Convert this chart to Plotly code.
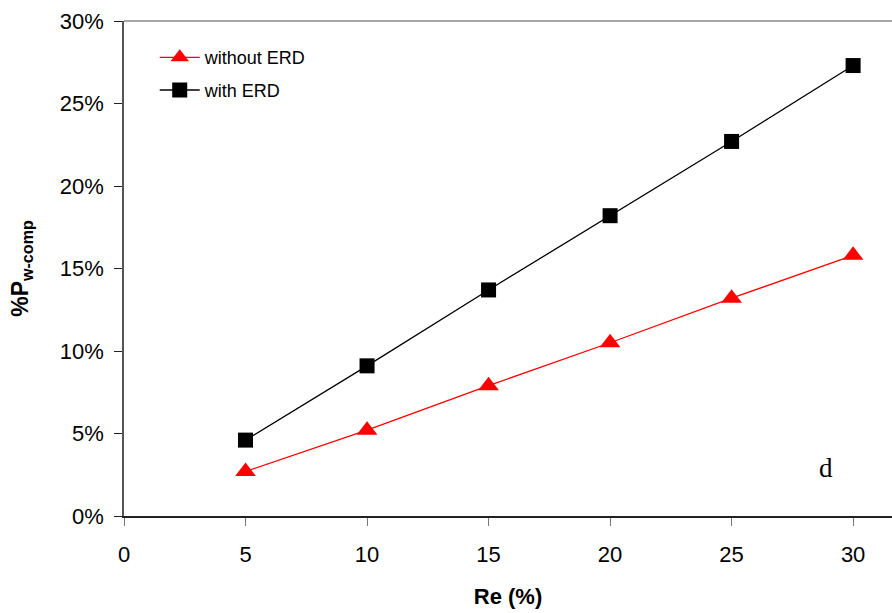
import plotly.graph_objects as go

re_vals = [5, 10, 15, 20, 25, 30]
without_erd = [0.027, 0.052, 0.079, 0.105, 0.132, 0.158]
with_erd = [0.046, 0.091, 0.137, 0.182, 0.227, 0.273]
x_ticks = [0, 5, 10, 15, 20, 25, 30]
y_ticks = [0, 0.05, 0.10, 0.15, 0.20, 0.25, 0.30]

fig = go.Figure()
fig.add_trace(go.Scatter(x=re_vals, y=without_erd, mode="lines+markers", name="without ERD",
                         line=dict(color="#ff0000", width=1.3), legend="legend",
                         marker=dict(symbol="triangle-up", size=18, color="#ff0000")))
fig.add_trace(go.Scatter(x=re_vals, y=with_erd, mode="lines+markers", name="with ERD",
                         line=dict(color="#000000", width=1.3), legend="legend2",
                         marker=dict(symbol="square", size=15, color="#000000")))

leg_common = dict(xanchor="left", yanchor="middle", bgcolor="rgba(0,0,0,0)",
                  font=dict(size=18, family="Liberation Sans, Arial"), itemwidth=40)

fig.update_layout(
    width=892, height=613,
    margin=dict(l=124, r=0, t=21, b=97),
    plot_bgcolor="white", paper_bgcolor="white",
    font=dict(family="Liberation Sans, Arial", size=22, color="black"),
    showlegend=True,
    legend=dict(x=0.040, y=0.926, **leg_common),
    legend2=dict(x=0.040, y=0.860, **leg_common),
    xaxis=dict(range=[0, 31.6], tickvals=x_ticks, ticks="outside", ticklen=8, tickcolor="#777",
               showline=True, linecolor="#222", linewidth=1.5, showgrid=False, zeroline=False,
               ticklabelstandoff=10,
               title=dict(text="<b>Re (%)</b>", font=dict(size=22), standoff=22),
               tickfont=dict(size=22)),
    yaxis=dict(range=[0, 0.30], tickvals=y_ticks, tickformat=".0%", ticks="outside", ticklen=8,
               tickcolor="#222", showline=True, linecolor="#555", linewidth=1.5, showgrid=False,
               zeroline=False, mirror=False, ticklabelstandoff=6,
               title=dict(text="<b>%P<sub>w-comp</sub></b>", font=dict(size=23), standoff=25),
               tickfont=dict(size=22)),
    shapes=[dict(type="line", xref="paper", yref="paper", x0=0, x1=1, y0=1, y1=1,
                 line=dict(color="#888", width=1.5))],
    annotations=[dict(x=28.9, y=0.029, xref="x", yref="y", text="d", showarrow=False,
                      font=dict(family="Liberation Serif, Times New Roman", size=27, color="black"))],
)

fig.write_html("out.html")
